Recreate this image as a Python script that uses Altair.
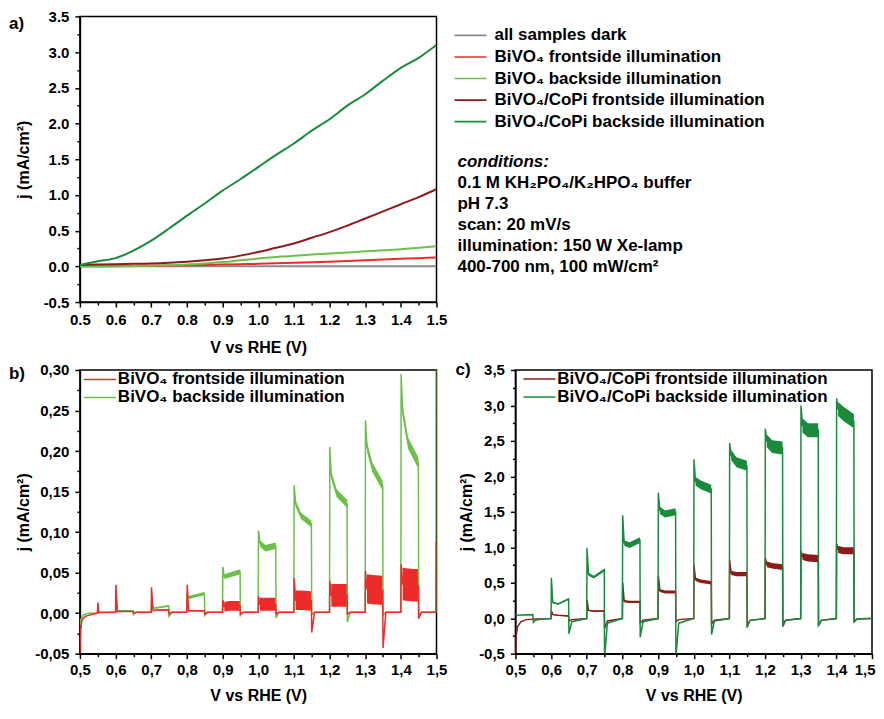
import altair as alt
import pandas as pd

FONT = "Liberation Sans"

# ---------------- panel a: linear sweeps ----------------
A_V = [0.50, 0.55, 0.60, 0.65, 0.70, 0.75, 0.80, 0.85, 0.90, 0.95, 1.00,
       1.05, 1.10, 1.15, 1.20, 1.25, 1.30, 1.35, 1.40, 1.45, 1.50]
A_DARK = [0.000, 0.000, 0.000, 0.000, 0.000, 0.000, 0.000, 0.000, 0.000, 0.000, 0.000,
          0.000, 0.000, 0.000, 0.000, 0.000, 0.000, 0.000, 0.000, 0.000, 0.000]
A_BIVO_FRONT = [0.000, 0.001, 0.003, 0.005, 0.008, 0.011, 0.015, 0.020, 0.025, 0.030, 0.035,
                0.042, 0.050, 0.057, 0.065, 0.075, 0.085, 0.095, 0.105, 0.115, 0.125]
A_BIVO_BACK = [0.000, 0.000, 0.000, 0.005, 0.010, 0.015, 0.025, 0.040, 0.060, 0.085, 0.110,
               0.130, 0.150, 0.165, 0.180, 0.195, 0.210, 0.225, 0.240, 0.260, 0.280]
A_COPI_FRONT = [0.020, 0.025, 0.030, 0.035, 0.040, 0.050, 0.065, 0.085, 0.110, 0.150, 0.200,
                0.260, 0.320, 0.400, 0.480, 0.570, 0.670, 0.770, 0.870, 0.970, 1.080]
A_COPI_BACK = [0.020, 0.070, 0.115, 0.220, 0.360, 0.530, 0.710, 0.880, 1.060, 1.220, 1.390,
               1.560, 1.720, 1.900, 2.060, 2.250, 2.410, 2.600, 2.780, 2.920, 3.100]
A_NAMES = ["all samples dark", "BiVO₄ frontside illumination", "BiVO₄ backside illumination",
           "BiVO₄/CoPi frontside illumination", "BiVO₄/CoPi backside illumination"]
A_COLORS = ["#8c8c8c", "#ee2b2b", "#6cc04a", "#8e1b1b", "#1a8b3c"]
A_SERIES = [A_DARK, A_BIVO_FRONT, A_BIVO_BACK, A_COPI_FRONT, A_COPI_BACK]

CONDITIONS = ["conditions:", "0.1 M KH₂PO₄/K₂HPO₄ buffer", "pH 7.3", "scan: 20 mV/s",
              "illumination: 150 W Xe-lamp", "400-700 nm, 100 mW/cm²"]

# ---------------- panel b: chopped light, BiVO4 ----------------
B_ON = [0.60, 0.70, 0.80, 0.90, 1.00, 1.10, 1.20, 1.30, 1.40]
B_NAMES = ["BiVO₄ frontside illumination", "BiVO₄ backside illumination"]
B_COLORS = ["#ee2b2b", "#6cc04a"]

B_BACK_START_V = [0.500, 0.503, 0.510, 0.525]
B_BACK_START_J = [-0.016, -0.007, -0.002, 0.000]
B_BACK_PEAK = [0.015, 0.016, 0.024, 0.057, 0.102, 0.158, 0.205, 0.238, 0.295]
B_BACK_SETTLE = [0.003, 0.006, 0.019, 0.045, 0.086, 0.135, 0.170, 0.205, 0.250]
B_BACK_MID = [0.003, 0.007, 0.021, 0.047, 0.080, 0.120, 0.148, 0.180, 0.210]
B_BACK_END = [0.003, 0.009, 0.024, 0.051, 0.083, 0.110, 0.135, 0.157, 0.185]
B_BACK_HW = [0.0005, 0.001, 0.002, 0.003, 0.004, 0.004, 0.005, 0.006, 0.007]
B_BACK_UNDER = [-0.002, -0.004, -0.003, -0.003, -0.006, -0.002, -0.011, -0.003, -0.003]
B_BACK_REC = [0.001, 0.001, 0.001, 0.001, 0.001, 0.001, 0.001, 0.001, 0.001]
B_BACK_TAIL_V = [1.4995, 1.500]
B_BACK_TAIL_J = [0.001, 0.350]

B_FRONT_START_V = [0.500, 0.502, 0.506, 0.515, 0.530, 0.549, 0.5505, 0.553]
B_FRONT_START_J = [-0.050, -0.020, -0.008, -0.004, -0.002, 0.000, 0.013, 0.001]
B_FRONT_PEAK = [0.035, 0.032, 0.035, 0.016, 0.021, 0.043, 0.040, 0.052, 0.060]
B_FRONT_SETTLE = [0.002, 0.003, 0.003, 0.008, 0.011, 0.016, 0.022, 0.030, 0.036]
B_FRONT_MID = [0.002, 0.004, 0.003, 0.009, 0.011, 0.016, 0.022, 0.029, 0.035]
B_FRONT_END = [0.002, 0.004, 0.003, 0.009, 0.011, 0.015, 0.022, 0.028, 0.034]
B_FRONT_HW = [0.0005, 0.0008, 0.001, 0.006, 0.008, 0.012, 0.014, 0.018, 0.020]
B_FRONT_UNDER = [0.000, -0.001, -0.001, -0.001, -0.001, -0.024, -0.001, -0.043, -0.007]
B_FRONT_REC = [0.001, 0.001, 0.001, 0.001, 0.001, 0.001, 0.001, 0.001, 0.001]
B_FRONT_TAIL_V = [1.4985, 1.4990]
B_FRONT_TAIL_J = [0.001, 0.088]

# ---------------- panel c: chopped light, BiVO4/CoPi ----------------
C_ON = [0.60, 0.70, 0.80, 0.90, 1.00, 1.10, 1.20, 1.30, 1.40]
C_NAMES = ["BiVO₄/CoPi frontside illumination", "BiVO₄/CoPi backside illumination"]
C_COLORS = ["#8e1b1b", "#1a8b3c"]

C_FRONT_START_V = [0.500, 0.502, 0.506, 0.515, 0.530, 0.560]
C_FRONT_START_J = [-0.55, -0.25, -0.12, -0.05, -0.02, -0.01]
C_FRONT_PEAK = [0.10, 0.26, 0.50, 0.60, 0.75, 0.82, 0.85, 0.95, 1.05]
C_FRONT_SETTLE = [0.05, 0.11, 0.24, 0.39, 0.55, 0.64, 0.76, 0.87, 0.97]
C_FRONT_MID = [0.04, 0.10, 0.23, 0.37, 0.52, 0.62, 0.74, 0.85, 0.95]
C_FRONT_END = [0.03, 0.10, 0.23, 0.37, 0.50, 0.62, 0.72, 0.84, 0.95]
C_FRONT_HW = [0.005, 0.01, 0.015, 0.02, 0.025, 0.03, 0.04, 0.05, 0.05]
C_FRONT_UNDER = [-0.04, -0.15, -0.07, -0.05, -0.08, -0.10, -0.08, -0.10, -0.05]
C_FRONT_REC = [-0.02, -0.04, -0.03, -0.02, -0.03, -0.03, -0.03, -0.03, -0.01]
C_FRONT_TAIL_V = [1.500]
C_FRONT_TAIL_J = [-0.005]

C_BACK_START_V = [0.500, 0.549, 0.5505, 0.556, 0.575]
C_BACK_START_J = [0.04, 0.05, -0.06, -0.03, -0.01]
C_BACK_PEAK = [0.57, 0.99, 1.45, 1.77, 2.24, 2.47, 2.67, 3.00, 3.10]
C_BACK_SETTLE = [0.22, 0.62, 1.06, 1.52, 1.93, 2.30, 2.50, 2.72, 2.95]
C_BACK_MID = [0.20, 0.58, 1.03, 1.47, 1.88, 2.20, 2.42, 2.65, 2.88]
C_BACK_END = [0.27, 0.68, 1.10, 1.50, 1.82, 2.15, 2.40, 2.65, 2.78]
C_BACK_HW = [0.01, 0.02, 0.04, 0.05, 0.06, 0.07, 0.09, 0.10, 0.10]
C_BACK_UNDER = [-0.22, -0.55, -0.27, -0.55, -0.23, -0.13, -0.12, -0.11, -0.05]
C_BACK_REC = [-0.05, -0.07, -0.05, -0.07, -0.04, -0.03, -0.03, -0.03, -0.01]
C_BACK_TAIL_V = [1.500]
C_BACK_TAIL_J = [0.000]

DUR = 0.05


def pulse_trace(name, start_v, start_j, ons, peak, settle, mid, end, under, rec, base, tail_v, tail_j):
    v = list(start_v)
    j = list(start_j)
    for i, on in enumerate(ons):
        off = on + DUR
        v += [on, on + 0.0008, on + 0.005, on + 0.02, off - 0.0008, off, off + 0.008]
        j += [base, peak[i], settle[i], mid[i], end[i], under[i], rec[i]]
    v += list(tail_v)
    j += list(tail_j)
    return pd.DataFrame({"series": name, "v": v, "j": j, "k": range(len(v))})


def pulse_bands(ons, settle, mid, end, hw):
    rows = []
    for i, on in enumerate(ons):
        off = on + DUR
        for vv, c in [(on + 0.005, settle[i]), (on + 0.02, mid[i]), (off - 0.0008, end[i])]:
            rows.append({"pulse": i, "v": vv, "lo": c - hw[i], "hi": c + hw[i]})
    return pd.DataFrame(rows)


def major_test(mult):
    return f"abs(datum.value*{mult} - round(datum.value*{mult})) < 0.001"


def tick_size(mult):
    return {"condition": {"test": major_test(mult), "value": 5}, "value": 3}


def label_expr(mult, fmt, comma):
    s = f"replace(format(datum.value, '{fmt}'), '−', '-')"
    if comma:
        s = f"replace({s}, '.', ',')"
    return f"{major_test(mult)} ? {s} : ''"


X_TICKS = [round(0.5 + 0.05 * i, 3) for i in range(21)]
YA_TICKS = [round(-0.5 + 0.25 * i, 3) for i in range(17)]
YB_TICKS = [round(-0.05 + 0.025 * i, 4) for i in range(15)]


def x_axis(comma, lpad, tpad, flush_last=False):
    extra = {}
    if flush_last:
        extra["labelAlign"] = {"condition": {"test": "datum.value > 1.499", "value": "right"}, "value": "center"}
        extra["labelOffset"] = {"condition": {"test": "datum.value > 1.499", "value": 3}, "value": 0}
    return alt.Axis(values=X_TICKS, labelExpr=label_expr(10, ".1f", comma), tickSize=tick_size(10),
                    labelPadding=lpad, title="V vs RHE (V)", titlePadding=tpad, labelFlush=False,
                    labelOverlap=False, **extra)


def y_axis(ticks, mult, fmt, comma, extent):
    return alt.Axis(values=ticks, labelExpr=label_expr(mult, fmt, comma), tickSize=tick_size(mult),
                    labelPadding=6, title="j (mA/cm²)", minExtent=extent, maxExtent=extent,
                    titlePadding=2, labelOverlap=False)


def line_legend(x, y, row_pad, offset):
    return alt.Legend(title=None, orient="none", legendX=x, legendY=y, symbolType="M-2,0H2",
                      symbolSize=256, symbolStrokeWidth=1.6, labelFont=FONT, labelFontSize=17,
                      labelFontWeight="bold", labelColor="black", labelLimit=600,
                      labelOffset=offset, rowPadding=row_pad, padding=0)


def corner_label(text, x, y):
    return alt.Chart(pd.DataFrame({"t": [text]})).mark_text(
        align="left", baseline="middle", font=FONT, fontSize=17, fontWeight="bold", color="black"
    ).encode(x=alt.value(x), y=alt.value(y), text="t:N")


W = 357
HA, HB = 286, 284

# ---- panel a ----
dfA = pd.concat([pd.DataFrame({"series": n, "v": A_V, "j": s}) for n, s in zip(A_NAMES, A_SERIES)])
lineA = alt.Chart(dfA).mark_line(strokeWidth=2, interpolate="monotone", clip=True).encode(
    x=alt.X("v:Q", scale=alt.Scale(domain=[0.5, 1.5], nice=False, zero=False), axis=x_axis(False, 5, 12)),
    y=alt.Y("j:Q", scale=alt.Scale(domain=[-0.5, 3.5], nice=False, zero=False),
            axis=y_axis(YA_TICKS, 2, ".1f", False, 46)),
    color=alt.Color("series:N", sort=A_NAMES, scale=alt.Scale(domain=A_NAMES, range=A_COLORS),
                    legend=line_legend(382, 10, 4.6, 15)),
)
cond_layers = []
for i, line in enumerate(CONDITIONS):
    cond_layers.append(
        alt.Chart(pd.DataFrame({"t": [line]})).mark_text(
            align="left", baseline="middle", font=FONT, fontSize=17, fontWeight="bold",
            fontStyle="italic" if i == 0 else "normal", color="black"
        ).encode(x=alt.value(378), y=alt.value(146 + 21 * i), text="t:N")
    )
panelA = alt.layer(lineA, corner_label("a)", -71, 8), *cond_layers).properties(width=W, height=HA)

# ---- placeholder cell (top right) ----
blank = alt.Chart(pd.DataFrame({"t": [""]})).mark_text().encode(text="t:N").properties(
    width=W, height=HA, view=alt.ViewBackground(strokeOpacity=0))

# ---- panel b ----
dfB = pd.concat([
    pulse_trace(B_NAMES[1], B_BACK_START_V, B_BACK_START_J, B_ON, B_BACK_PEAK, B_BACK_SETTLE,
                B_BACK_MID, B_BACK_END, B_BACK_UNDER, B_BACK_REC, 0.001, B_BACK_TAIL_V, B_BACK_TAIL_J),
    pulse_trace(B_NAMES[0], B_FRONT_START_V, B_FRONT_START_J, B_ON, B_FRONT_PEAK, B_FRONT_SETTLE,
                B_FRONT_MID, B_FRONT_END, B_FRONT_UNDER, B_FRONT_REC, 0.001, B_FRONT_TAIL_V, B_FRONT_TAIL_J),
])
axis_yB = y_axis(YB_TICKS, 20, ".2f", True, 46)
xB = alt.X("v:Q", scale=alt.Scale(domain=[0.5, 1.5], nice=False, zero=False), axis=x_axis(True, 4, 10))
yB_scale = alt.Scale(domain=[-0.05, 0.30], nice=False, zero=False)
lineB = alt.Chart(dfB).mark_line(strokeWidth=1.5, clip=True).encode(
    x=xB,
    y=alt.Y("j:Q", scale=yB_scale, axis=axis_yB),
    color=alt.Color("series:N", scale=alt.Scale(domain=B_NAMES, range=B_COLORS),
                    legend=line_legend(11, 0.5, 1, 9)),
    order="k:Q",
)
bandB_back = alt.Chart(pulse_bands(B_ON, B_BACK_SETTLE, B_BACK_MID, B_BACK_END, B_BACK_HW)).mark_area(
    clip=True, color=B_COLORS[1]).encode(x=xB, y=alt.Y("lo:Q", scale=yB_scale, axis=axis_yB),
                                         y2="hi:Q", detail="pulse:N")
bandB_front = alt.Chart(pulse_bands(B_ON, B_FRONT_SETTLE, B_FRONT_MID, B_FRONT_END, B_FRONT_HW)).mark_area(
    clip=True, color=B_COLORS[0]).encode(x=xB, y=alt.Y("lo:Q", scale=yB_scale, axis=axis_yB),
                                         y2="hi:Q", detail="pulse:N")
panelB = alt.layer(bandB_back, bandB_front, lineB, corner_label("b)", -71, 4)).properties(width=W, height=HB)

# ---- panel c ----
dfC = pd.concat([
    pulse_trace(C_NAMES[0], C_FRONT_START_V, C_FRONT_START_J, C_ON, C_FRONT_PEAK, C_FRONT_SETTLE,
                C_FRONT_MID, C_FRONT_END, C_FRONT_UNDER, C_FRONT_REC, -0.005, C_FRONT_TAIL_V, C_FRONT_TAIL_J),
    pulse_trace(C_NAMES[1], C_BACK_START_V, C_BACK_START_J, C_ON, C_BACK_PEAK, C_BACK_SETTLE,
                C_BACK_MID, C_BACK_END, C_BACK_UNDER, C_BACK_REC, -0.005, C_BACK_TAIL_V, C_BACK_TAIL_J),
])
axis_yC = y_axis(YA_TICKS, 2, ".1f", True, 39)
xC = alt.X("v:Q", scale=alt.Scale(domain=[0.5, 1.5], nice=False, zero=False),
           axis=x_axis(True, 4, 10, flush_last=True))
yC_scale = alt.Scale(domain=[-0.5, 3.5], nice=False, zero=False)
lineC = alt.Chart(dfC).mark_line(strokeWidth=1.5, clip=True).encode(
    x=xC,
    y=alt.Y("j:Q", scale=yC_scale, axis=axis_yC),
    color=alt.Color("series:N", scale=alt.Scale(domain=C_NAMES, range=C_COLORS),
                    legend=line_legend(15, 0, 1, 9)),
    order="k:Q",
)
bandC_front = alt.Chart(pulse_bands(C_ON, C_FRONT_SETTLE, C_FRONT_MID, C_FRONT_END, C_FRONT_HW)).mark_area(
    clip=True, color=C_COLORS[0]).encode(x=xC, y=alt.Y("lo:Q", scale=yC_scale, axis=axis_yC),
                                         y2="hi:Q", detail="pulse:N")
bandC_back = alt.Chart(pulse_bands(C_ON, C_BACK_SETTLE, C_BACK_MID, C_BACK_END, C_BACK_HW)).mark_area(
    clip=True, color=C_COLORS[1]).encode(x=xC, y=alt.Y("lo:Q", scale=yC_scale, axis=axis_yC),
                                         y2="hi:Q", detail="pulse:N")
panelC = alt.layer(bandC_front, bandC_back, lineC, corner_label("c)", -60, 0)).properties(width=W, height=HB)

chart = alt.concat(
    panelA, blank, panelB, panelC, columns=2,
    spacing={"row": 68, "column": 79}, bounds="flush",
).resolve_scale(color="independent").resolve_legend(color="independent").properties(
    padding={"left": 0, "top": 0, "right": 0, "bottom": 0}
).configure(font=FONT).configure_axis(
    labelFont=FONT, labelFontSize=15, labelFontWeight="bold", labelColor="black",
    titleFont=FONT, titleFontSize=16, titleFontWeight="bold", titleColor="black",
    domainColor="black", domainWidth=1.5, tickColor="black", tickWidth=1.5, grid=False,
    labelOverlap=False,
).configure_view(stroke="black", strokeWidth=1.5)

chart.save("out.html", embed_options={"renderer": "svg", "actions": False})
